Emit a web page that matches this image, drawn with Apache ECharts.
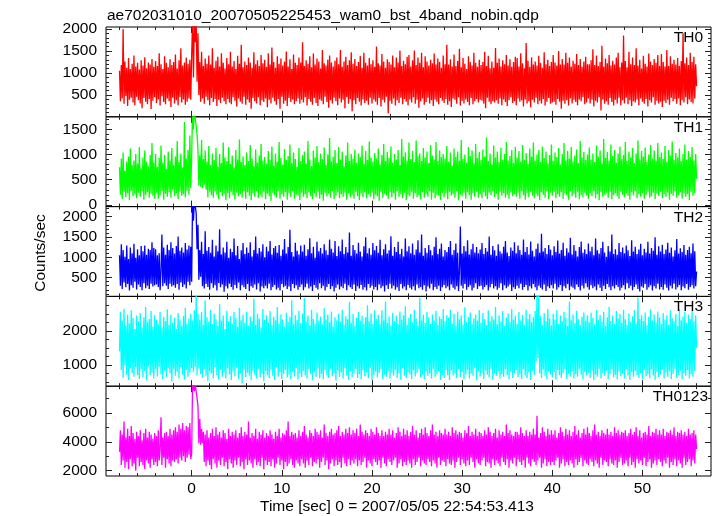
<!DOCTYPE html>
<html><head><meta charset="utf-8">
<script src="https://cdn.jsdelivr.net/npm/echarts@6/dist/echarts.min.js"></script>
<style>html,body{margin:0;padding:0;background:#fff}#c{width:717px;height:516px}</style>
</head><body><div id="c"></div>
<script>
const titleText = "ae702031010_20070505225453_wam0_bst_4band_nobin.qdp";
const xTitle = "Time [sec] 0 = 2007/05/05 22:54:53.413";
const yTitle = "Counts/sec";
const panelNames = ["TH0", "TH1", "TH2", "TH3", "TH0123"];

// time bins: start and width of each bin (sec)
const binStart = -8, binWidth = 0.1;

const th0 = [
1050,360,1180,420,2000,300,1260,480,1120,250,1340,390,1090,440,1210,330,1400,270,1150,460,
1230,380,1080,310,1290,200,1170,430,1360,350,1110,290,1240,410,1190,180,1320,370,1140,450,
1270,320,1160,400,1450,260,1200,470,1090,340,1380,290,1230,420,1130,360,1310,230,1180,440,
1250,310,1420,380,1100,270,1290,450,1560,330,1170,400,1240,280,1350,350,1210,420,1300,390,
1380,2200,900,2200,1700,2200,800,1900,500,1250,350,1480,420,1160,300,1330,460,1210,380,1400,
270,1190,430,1560,340,1120,410,1280,250,1370,390,1150,320,1450,440,1230,360,1100,290,1340,
410,1200,330,1480,290,1150,450,1270,370,1090,240,1390,420,1210,350,1640,300,1130,460,1260,
280,1180,400,1350,330,1240,190,1120,430,1470,360,1200,310,1290,450,1160,270,1410,380,1220,
340,1300,420,1140,220,1450,390,1190,310,1580,440,1250,360,1120,280,1380,410,1210,190,1330,
460,1170,300,1260,370,1490,250,1150,430,1310,340,1090,400,1420,290,1230,360,1180,420,1350,
300,1240,390,1700,330,1160,450,1290,260,1210,410,1380,350,1130,280,1440,430,1190,320,1330,
250,1260,400,1100,370,1520,290,1220,460,1170,340,1300,210,1400,380,1240,310,1150,440,1280,
360,1350,270,1200,420,1520,330,1140,390,1260,200,1370,450,1180,300,1290,410,1470,130,1210,
380,1320,290,1160,430,1250,350,1390,260,1120,400,1460,320,1230,370,1170,280,1340,440,1200,
310,1290,400,1140,350,1600,280,1220,430,1170,240,1430,390,1260,330,1120,460,1310,80,1250,
370,1190,300,1400,420,1130,260,1350,380,1240,320,1510,440,1160,290,1280,410,1200,350,1370,
270,1410,400,1150,330,1290,450,1510,300,1180,390,1350,210,1230,360,1460,420,1130,280,1380,
340,1260,440,1170,310,1300,380,1220,250,1440,400,1190,350,1330,290,1250,430,1120,370,1400,
320,1200,410,1640,280,1190,360,1310,230,1150,420,1420,390,1160,300,1270,450,1550,260,1130,
370,1340,310,1210,400,1090,340,1380,270,1250,430,1170,290,1460,360,1230,410,1140,330,1300,
390,1180,370,1250,310,1480,200,1160,440,1390,350,1110,290,1260,360,1120,330,1570,380,1230,
300,1330,420,1150,270,1290,400,1200,340,1410,250,1170,380,1310,450,1140,320,1250,360,1370,
270,1340,420,1150,350,1450,380,1220,240,1110,400,1680,310,1280,360,1140,220,1360,390,1190,
330,1260,440,1170,290,1390,370,1230,310,1120,410,1470,260,1200,350,1300,430,1160,300,1250,
330,1410,350,1240,280,1170,410,1500,350,1190,190,1320,370,1190,300,1460,380,1230,260,1350,
420,1150,310,1280,390,1210,340,1430,270,1180,400,1320,360,1140,450,1260,290,1370,330,1200,
420,1200,310,1290,390,1540,240,1180,370,1400,330,1160,450,1250,150,1620,400,1140,300,1330,
360,1220,280,1410,430,1170,340,1280,260,1190,390,1350,310,1460,440,1130,270,1240,380,1850,
310,1270,440,1130,290,1480,380,1200,250,1350,360,1180,330,1560,400,1170,270,1300,420,1100,
350,1390,300,1210,410,1150,240,1440,380,1260,330,1180,450,1320,280,1230,370,1410,310,1160,
350,1430,230,1250,370,1150,320,1520,390,1160,280,1380,440,1210,360,1300,410,1190,300,1340,
420,1160,270,1270,380,1900,330,1220,450,1350,290,1180,400,1460,340,1250,310,1370,420,1200,
700];

const th1 = [
750,200,920,110,1040,260,680,150,860,230,960,90,1120,280,790,170,880,210,1010,130,
820,240,1150,160,730,270,940,100,1080,190,860,250,770,140,990,220,1230,180,840,120,
1010,240,760,120,930,190,1180,270,840,100,990,220,720,160,1060,250,880,140,1130,300,
790,170,960,230,1270,110,850,260,1020,180,740,210,1650,150,920,280,1090,200,1380,330,
950,1900,1500,1900,1900,1900,1400,1100,380,980,360,1290,330,910,400,1080,300,860,150,1170,
260,790,190,1020,140,890,270,1130,200,760,110,1010,250,830,170,1240,220,940,90,870,
230,1150,130,810,260,980,190,740,100,1090,240,900,170,1300,210,850,140,960,270,790,
120,1040,250,870,180,1190,90,920,230,770,160,1100,270,840,130,980,200,1210,150,880,
260,950,110,820,220,1070,170,900,80,1160,240,780,190,1020,140,860,280,1250,120,930,
210,800,160,1110,250,890,100,970,230,1200,150,830,270,1040,120,910,200,760,180,1130,
90,870,240,990,160,1060,210,820,130,1270,250,900,170,780,110,1080,230,940,150,1170,
260,850,120,1020,200,910,80,1140,240,790,170,1000,220,1330,140,860,270,960,110,1090,
190,830,250,1150,130,900,210,1060,160,770,240,980,100,1240,230,870,150,1010,200,920,
120,1100,260,840,170,1020,90,950,230,1180,150,810,250,1070,130,890,210,1260,160,940,
240,860,110,1030,200,920,170,1120,80,800,260,990,140,1210,220,870,180,1050,120,930,
250,1160,150,840,230,1010,100,900,270,1090,160,790,210,1310,130,960,240,1040,90,880,
200,1240,170,910,260,1070,120,850,230,1280,150,960,190,1020,110,870,250,1130,140,940,
220,1060,160,830,270,1190,100,980,240,900,130,1250,200,870,180,1080,90,950,230,1010,
150,920,230,1170,110,860,260,1040,180,780,210,1120,140,950,270,1060,90,880,200,1290,
170,910,240,1000,120,840,250,1150,190,970,100,1080,230,820,160,1210,260,930,140,1050,
210,890,130,1100,250,960,170,1340,110,870,240,1020,190,800,270,1180,150,940,220,1060,
100,850,260,1130,180,900,230,1010,140,1250,200,880,120,970,250,1090,170,830,210,1150,
160,940,240,1070,120,860,270,1190,190,900,100,1030,230,810,150,1120,260,960,180,1240,
130,880,220,1000,170,1090,90,850,250,1160,200,930,140,1060,270,820,110,990,240,1200,
180,870,260,1040,130,950,210,1130,160,800,250,1010,120,1230,230,880,190,1070,100,920,
270,1150,170,860,220,980,140,1100,260,830,110,1270,200,940,150,1050,240,890,180,1000,
120,1140,230,900,170,1020,270,850,130,1180,210,960,90,1080,250,820,160,1310,200,930,
240,1050,140,880,260,1200,110,970,190,1090,230,840,170,1020,120,1160,260,910,200,990,
150,1250,220,870,180,1060,100,940,250,1130,190,830,270,1020,130,1280,210,900,160,1070,
230,960,120,1140,200,850,260,1000,140,1190,170,920,240,1080,110,880,220,1230,180,950,
260,1040,130,910,210,1170,160,860,240,1090,100,980,220,1260,180,890,270,1030,140,940,
190,1120,250,870,120,1010,230,1200,160,900,210,1070,90,950,260,1150,180,880,230,1010,
520];

const th2 = [
1050,300,1320,220,1180,380,1010,260,1290,340,960,180,1240,310,1100,250,1330,400,990,210,
1200,330,1050,270,1280,190,1150,360,1290,240,1060,300,1210,220,1180,350,1370,280,1230,310,
1200,330,1050,270,1100,190,650,1560,290,1240,360,1060,300,1310,220,1180,350,1370,280,1230,
310,1090,250,1280,340,1510,200,1160,380,1240,270,1120,330,1350,230,1190,400,1290,310,1260,
400,2400,1900,2400,2400,2100,1200,1800,450,1180,520,1380,290,1080,230,1640,340,1160,270,1250,
200,1110,360,1430,250,1020,310,1290,180,1150,370,1690,260,1070,330,1240,150,1120,290,1380,
230,990,350,1210,270,1130,200,1460,320,1050,240,1280,380,960,190,1170,310,1350,260,1080,
220,1240,340,1110,170,1370,290,1020,250,1180,330,1510,210,1090,360,1230,160,1140,280,1320,
240,1000,300,1260,230,1150,350,1400,190,1070,270,1230,320,1280,210,1110,250,1300,180,1040,
340,1190,260,1450,300,1090,220,1250,280,1680,170,1130,340,1020,240,1360,310,1160,200,1070,
270,1290,330,1140,190,1310,260,1040,350,1200,230,1470,280,1100,170,1260,320,990,250,1380,
210,1150,360,1230,240,1090,300,1320,180,1170,270,1060,340,1440,220,1210,290,1120,160,1400,
250,1030,330,1270,210,1150,280,1440,240,1080,350,1250,190,1120,310,1610,260,1040,220,1300,
330,1180,170,1090,290,1360,230,1140,320,1020,200,1270,260,1490,180,1100,340,1220,250,1060,
300,1350,210,1170,270,1280,190,1110,330,1430,240,1050,290,1200,160,1320,310,1090,220,1170,
350,1520,230,1040,300,1250,200,1130,260,1380,170,1080,340,1210,230,1020,280,1460,190,1150,
320,1270,250,1100,210,1340,290,1060,180,1190,330,1420,240,1120,270,1560,200,1040,310,1230,
160,1110,280,1300,230,1170,350,1050,190,1260,270,1490,220,1080,300,1210,170,1340,260,1020,
320,1180,240,1130,280,1250,190,1400,330,1060,250,1180,210,1340,290,1110,170,650,1760,300,
1090,230,1280,340,1150,200,1420,270,1070,310,1200,180,1330,250,1120,360,1250,220,1100,290,
1190,300,1350,210,1080,270,1230,320,1140,180,1510,260,1060,340,1280,230,1170,290,1040,200,
1320,250,1150,360,1090,190,1260,310,1400,240,1120,280,1030,330,1240,170,1160,260,1370,220,
1100,300,1290,240,1180,350,1060,200,1440,270,1130,320,1250,180,1070,290,1390,230,1160,340,
1020,260,1210,190,1340,300,1110,250,1580,210,1140,330,1230,170,1080,280,1300,240,1190,310,
1050,230,1270,350,1130,200,1410,260,1090,320,1180,170,1360,290,1040,240,1220,340,1120,190,
1480,280,1070,250,1300,210,1160,330,1020,270,1250,180,1390,300,1110,230,1200,360,1080,260,
1340,200,1150,310,1260,240,1050,280,1460,190,1170,330,1090,250,1230,170,1380,300,1120,220,
1010,340,1280,260,1140,190,1560,290,1080,230,1200,320,1060,270,1350,180,1130,250,1240,310,
1100,210,1290,360,1170,240,1030,300,1420,190,1140,270,1260,330,1080,220,1190,160,1330,280,
1050,250,1210,340,1120,200,1380,260,1090,310,1230,180,1160,290,1490,230,1060,350,1270,210,
1140,270,1310,200,1080,330,1190,250,1360,180,1110,300,1240,230,1020,350,1170,210,1450,260,
1090,320,1220,190,1130,280,1300,240,1060,340,1180,200,1260,270,1100,310,1340,230,1150,290,
650];

const th3 = [
1400,2550,850,2300,620,2650,980,2150,710,2480,560,2220,900,2600,760,2380,650,2050,930,2450,
700,2280,590,2520,880,2100,640,2400,820,2700,540,2250,960,2350,690,2580,780,2120,610,2460,
870,2330,660,2190,950,2560,720,2080,580,2410,830,2290,640,2630,910,2170,750,2470,530,2240,
890,2380,680,2060,800,2520,600,2310,940,2150,710,2440,570,2680,850,2200,650,2360,780,2500,
900,2300,800,2600,950,3100,700,2500,900,2320,730,2550,620,2180,870,2900,680,2400,520,2270,
810,2620,750,2200,600,2500,940,2350,700,2150,570,2780,860,2300,650,2450,780,2050,600,2590,
910,2280,720,2430,560,2200,830,2550,670,2380,920,2120,590,2680,740,2310,450,2470,880,2240,
640,2560,770,2150,690,2420,550,2290,840,2950,710,2180,600,2500,890,2360,640,2100,760,2640,
530,2330,820,2460,700,2250,610,2580,870,2170,680,2420,560,2310,930,2700,650,2200,790,2480,
590,2340,740,2120,860,2530,630,2260,720,2400,570,2900,800,2190,660,2460,910,2320,580,2590,
750,2230,640,2510,820,2960,690,2280,600,2450,870,2160,730,2620,550,2350,780,2210,650,2540,
900,2300,610,2420,740,2190,580,2660,850,2340,700,2480,620,2250,890,2570,670,2130,760,2400,
540,2310,830,2500,650,2270,780,2620,600,2180,910,2430,700,2340,560,2850,810,2230,640,2490,
750,2150,880,2380,620,2560,730,2300,590,2440,850,2200,670,2400,780,2750,610,2280,920,2510,
560,2200,700,2600,800,2350,640,2470,760,2190,880,2600,580,2310,710,2860,650,2240,830,2420,
600,2150,770,2530,690,2290,860,2440,620,2200,750,2570,560,2330,900,2460,680,2720,610,2170,
790,2380,720,2490,590,2250,840,2620,660,2360,770,2150,870,2980,630,2310,710,2470,580,2230,
820,2550,680,2400,750,2200,600,2480,890,2300,650,2590,730,2170,810,2420,560,2350,700,2640,
620,2280,850,2460,700,2390,560,2620,830,2210,690,2500,760,2140,610,2570,880,2330,640,2450,
790,2180,570,2690,720,2260,860,2410,600,2540,740,2200,680,2360,920,2480,550,2300,810,2610,
660,2240,770,2520,590,2350,840,2170,710,2600,630,2280,890,2430,560,2330,750,2700,680,2190,
820,2460,600,2270,730,2580,650,2140,870,2390,700,2510,580,2250,790,2640,620,2320,760,2440,
850,2210,640,2550,720,2300,590,2470,880,2180,690,2620,610,2350,780,2490,560,2260,830,2400,
700,2580,1100,3100,1200,3100,750,2440,620,2180,860,2520,680,2290,590,2640,810,2370,720,2160,
640,2500,790,2330,570,2600,850,2200,700,2450,620,2280,760,2560,880,2390,590,2140,740,2860,
660,2310,810,2480,600,2230,730,2590,650,2350,870,2170,720,2420,580,2540,800,2300,690,2460,
770,2250,620,2530,840,2380,560,2190,710,2610,650,2320,890,2470,600,2270,760,2560,680,2140,
830,2400,590,2700,740,2290,860,2450,630,2200,710,2580,570,2360,800,2490,670,2230,750,2620,
600,2340,880,2180,690,2510,560,2270,790,2430,650,2600,820,2210,700,2980,620,2350,760,2460,
580,2290,850,2540,670,2160,730,2410,610,2630,870,2300,690,2480,560,2250,800,2570,640,2390,
720,2200,860,2520,600,2330,780,2460,650,2180,810,2600,580,2370,740,2280,890,2490,620,2150,
700,2640,830,2310,570,2420,760,2560,680,2240,850,2480,610,2350,730,2590,650,2270,820,2460,
1500];

const th0123 = [
3300,4800,2400,4500,2700,5400,2200,4300,2600,4900,2100,4400,2800,5100,2300,4600,2500,4200,2000,4700,
2900,4400,2300,4800,2600,4100,2400,4600,2100,4900,2700,4300,2500,4700,2200,4500,2800,4200,2400,4600,
2600,4400,2300,4800,2700,3400,5700,2400,4300,2900,4600,2200,4700,2800,4400,2500,4900,2300,4500,2700,
4800,2600,5000,2800,4700,2500,5200,2900,4900,2700,5300,3000,4800,2600,5100,2900,5000,3100,5300,2800,
3200,8000,8000,7500,8000,8000,7000,6500,3900,5600,3800,4900,3900,4700,2600,4500,2300,4800,2700,4300,
2400,4600,2100,4900,2800,4400,2500,5000,2200,4500,2700,4700,2400,4300,2900,4800,2300,4600,2600,4200,
2100,4900,2800,4400,2500,4700,2200,4500,2700,4800,2400,4300,2900,4600,2300,5000,2600,4400,2100,4700,
2800,4500,2400,5400,2700,4300,2500,4600,2200,4400,2800,4900,2400,4200,2600,4700,2300,4500,2900,4800,
2100,4300,2700,4600,2400,4400,2600,4800,2300,4500,2800,4200,2200,4700,2500,4400,2900,4900,2400,4300,
2700,4600,2100,4500,2600,4800,2300,5400,2500,4400,2800,4700,2400,4500,2200,4600,2700,4300,2500,4800,
2300,4400,2800,4700,2500,5100,2200,4500,2700,4300,2400,4800,2900,4600,2300,4400,2600,4900,2500,4700,
2800,4500,2200,4800,2600,4300,2900,5200,2400,4600,2700,4400,2100,4700,2500,4900,2800,4500,2300,4600,
2700,4800,2400,5100,2600,4400,2200,4700,2900,4500,2500,4900,2300,4600,2800,5000,2400,4500,2700,4800,
2500,4600,2800,4900,2300,4400,2700,5200,2400,4700,2600,4500,2900,4800,2200,4600,2700,4400,2500,4900,
2300,4700,2800,4500,2600,5000,2400,4600,2700,4400,2200,4800,2900,4400,2500,4700,2300,4500,2800,4900,
2600,4500,2400,4800,2700,4300,2900,4600,2200,5000,2500,4700,2800,4400,2300,4900,2600,4500,2400,4800,
2700,4400,2500,4700,2200,5100,2800,4500,2400,4800,2600,4300,2900,4600,2300,4900,2700,4500,2500,5000,
2400,4600,2800,4400,2600,4800,2300,5200,2700,4500,2500,4700,2200,4400,2900,4800,2400,4600,2700,4500,
2600,4900,2300,4500,2800,4700,2500,4400,2400,5000,2700,4600,2200,4800,2600,4500,2900,4700,2400,4600,
2800,4300,2500,4800,2300,4600,2700,5100,2400,4400,2900,4700,2600,4500,2200,4900,2800,4400,2500,4700,
2400,4600,2700,4400,2900,4800,2300,4500,2600,5000,2500,4700,2200,4400,2800,4600,2400,4900,2700,4300,
2500,4800,2300,4500,2900,4700,2600,4400,2400,5200,2800,4600,2200,4800,2700,4500,2500,4400,2900,4700,
2300,4700,2800,4500,2600,5000,2400,4600,2700,4400,2200,4800,2900,4400,2500,4700,2300,4500,2800,4900,
2600,4500,2400,5800,2700,4300,2900,4600,2200,5000,2500,4700,2800,4400,2300,4900,2600,4500,2400,4800,
2600,4500,2400,4800,2700,4300,2900,4600,2200,5000,2500,4700,2800,4400,2300,4900,2600,4500,2400,4800,
2700,4400,2500,4700,2200,5100,2800,4500,2400,4800,2600,4300,2900,4600,2300,4900,2700,4500,2500,5000,
2400,4600,2800,4400,2600,4800,2300,5200,2700,4500,2500,4700,2200,4400,2900,4800,2400,4600,2700,4500,
2600,4900,2300,4500,2800,4700,2500,4400,2400,5000,2700,4600,2200,4800,2600,4500,2900,4700,2400,4600,
2500,4800,2700,4400,2300,4600,2900,4900,2400,4500,2600,4700,2200,5000,2800,4400,2500,4800,2700,4300,
2400,4600,2900,4700,2300,4500,2600,5100,2800,4400,2200,4700,2500,4600,2700,4900,2400,4500,2800,4800,
2600,4500,2300,4900,2700,4400,2500,4700,2900,4600,2200,4800,2600,4500,2400,5000,2800,4400,2300,4700,
2700,4600,2500,4800,2200,4500,2900,4700,2400,4400,2600,4900,2800,4500,2300,4600,2700,4800,2500,4500,
3500];

const xMajorTicks = [0, 10, 20, 30, 40, 50];
const xMinorTicks = [-8,-6,-4,-2,0,2,4,6,8,10,12,14,16,18,20,22,24,26,28,30,32,34,36,38,40,42,44,46,48,50,52,54,56];

const yMajorTicks = [
  [500, 1000, 1500, 2000],
  [0, 500, 1000, 1500],
  [500, 1000, 1500, 2000],
  [1000, 2000],
  [2000, 4000, 6000]
];
const yMinorTicks = [
  [100,200,300,400,500,600,700,800,900,1000,1100,1200,1300,1400,1500,1600,1700,1800,1900,2000],
  [0,100,200,300,400,500,600,700,800,900,1000,1100,1200,1300,1400,1500,1600,1700],
  [100,200,300,400,500,600,700,800,900,1000,1100,1200,1300,1400,1500,1600,1700,1800,1900,2000,2100,2200],
  [500,750,1000,1250,1500,1750,2000,2250,2500,2750,3000],
  [2000,3000,4000,5000,6000,7000]
];

// ---- layout / style ----
const FONT = "'Liberation Sans', Arial, Helvetica, sans-serif";
const FS = 15.5;
const colors = ['#ff0000', '#00ff00', '#0000ff', '#00ffff', '#ff00ff'];
const yRanges = [[5, 2045], [-35, 1752], [37, 2248], [376, 3010], [1630, 7850]];
const xRange = [-9.5, 57.6];
const tops = [27, 116.8, 206.6, 296.4, 386.2];
const H = 89.8;
const tickColor = '#222';
const plain = v => String(v);

const seriesData = [th0, th1, th2, th3, th0123];

const grids = [], xAxes = [], yAxes = [], series = [], graphics = [];

tops.forEach((t, g) => {
  grids.push({left: 106, right: 6, top: t, height: H, show: true,
    borderColor: '#000', borderWidth: 1, backgroundColor: 'rgba(0,0,0,0)'});
  const xBase = xAxes.length;
  [['bottom', xMajorTicks, 6, g === 4], ['bottom', xMinorTicks, 3, false],
   ['top', xMajorTicks, 6, false], ['top', xMinorTicks, 3, false]].forEach(([pos, vals, len, lab]) => {
    xAxes.push({gridIndex: g, type: 'value', position: pos, min: xRange[0], max: xRange[1],
      axisLine: {show: false, onZero: false}, splitLine: {show: false},
      axisTick: {show: true, inside: true, length: len, customValues: vals, lineStyle: {color: tickColor, width: 1}},
      axisLabel: {show: lab, customValues: vals, formatter: plain, fontSize: FS, fontFamily: FONT, color: '#000', margin: 5}});
  });
  const yBase = yAxes.length;
  [['left', yMajorTicks[g], 6, true], ['left', yMinorTicks[g], 3, false],
   ['right', yMajorTicks[g], 6, false], ['right', yMinorTicks[g], 3, false]].forEach(([pos, vals, len, lab]) => {
    yAxes.push({gridIndex: g, type: 'value', position: pos, min: yRanges[g][0], max: yRanges[g][1],
      axisLine: {show: false, onZero: false}, splitLine: {show: false},
      axisTick: {show: true, inside: true, length: len, customValues: vals, lineStyle: {color: tickColor, width: 1}},
      axisLabel: {show: lab, customValues: vals, formatter: plain, fontSize: FS, fontFamily: FONT, color: '#000', margin: 9}});
  });
  const vals = seriesData[g];
  series.push({type: 'line', name: panelNames[g], xAxisIndex: xBase, yAxisIndex: yBase,
    data: vals.map((v, i) => [binStart + i * binWidth, v]),
    showSymbol: false, symbol: 'none', clip: true, silent: true,
    lineStyle: {width: 1.3, color: colors[g]}, itemStyle: {color: colors[g]}});
  graphics.push({type: 'text', x: g === 4 ? 708 : 703, y: t + 10.8, z: 10,
    style: {text: panelNames[g], font: FS + 'px ' + FONT, fill: '#000', align: 'right', verticalAlign: 'middle'}});
});

graphics.push({type: 'text', x: 107, y: 15.5,
  style: {text: titleText, font: FS + 'px ' + FONT, fill: '#000', align: 'left', verticalAlign: 'middle'}});
graphics.push({type: 'text', x: 260, y: 506.5,
  style: {text: xTitle, font: FS + 'px ' + FONT, fill: '#000', align: 'left', verticalAlign: 'middle'}});
graphics.push({type: 'text', x: 41, y: 253, rotation: Math.PI / 2,
  style: {text: yTitle, font: FS + 'px ' + FONT, fill: '#000', align: 'center', verticalAlign: 'middle'}});

const chart = echarts.init(document.getElementById('c'), null, {renderer: 'canvas'});
chart.setOption({
  animation: false,
  backgroundColor: '#fff',
  grid: grids, xAxis: xAxes, yAxis: yAxes, series: series, graphic: graphics
});
</script></body></html>
